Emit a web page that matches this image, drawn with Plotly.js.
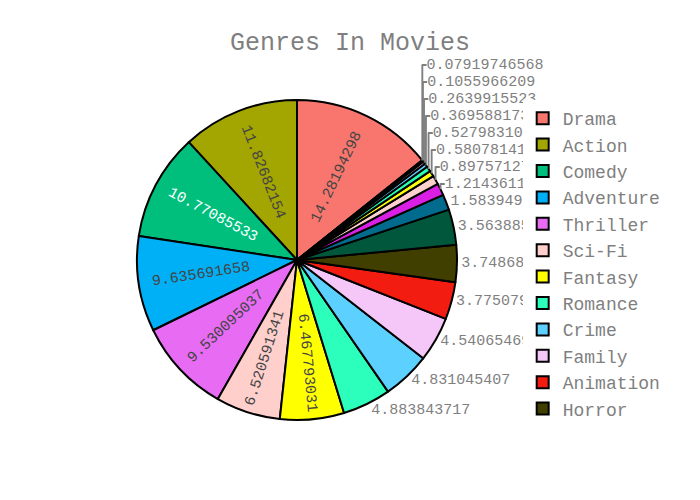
<!DOCTYPE html>
<html>
<head>
<meta charset="utf-8">
<script src="https://cdn.plot.ly/plotly-3.0.1.min.js"></script>
<style>
html,body{margin:0;padding:0;background:#fff;}
#chart{width:700px;height:500px;}
#chart .legend .scrollbar{opacity:0;}
</style>
</head>
<body>
<div id="chart"></div>
<script>
var genres = ["Drama","Action","Comedy","Adventure","Thriller","Sci-Fi","Fantasy","Romance","Crime","Family","Animation","Horror","Mystery","Biography","Music","History","Sport","War","Musical","Western","Documentary","Film-Noir"];
var shares = [14.28194298,11.82682154,10.77085533,9.635691658,9.530095037,6.520591341,6.467793031,4.883843717,4.831045407,4.540654699,3.775079197,3.748680042,3.563885956,1.583949314,1.21436114,0.8975712777,0.580781415,0.5279831045,0.3695881732,0.2639915523,0.1055966209,0.07919746568];
var palette = ["#F8766D","#A3A500","#00BF7D","#00B0F6","#E76BF3","#FFCFCC","#FFFF00","#2BFFBB","#5CD0FF","#F5C6F8","#F21C10","#403F00","#00573C","#006B8C","#D91FE3"];

var trace = {
  type: "pie",
  labels: genres,
  values: shares,
  textinfo: "value",
  sort: true,
  textfont: {size: 15},
  marker: {line: {color: "#000000", width: 2}},
  hoverinfo: "label+value"
};

var layout = {
  width: 700,
  height: 500,
  title: {text: "Genres In Movies"},
  font: {family: "Courier New, monospace", size: 18, color: "#7f7f7f"},
  piecolorway: palette,
  showlegend: true
};

Plotly.newPlot("chart", [trace], layout, {displayModeBar: false});
</script>
</body>
</html>
